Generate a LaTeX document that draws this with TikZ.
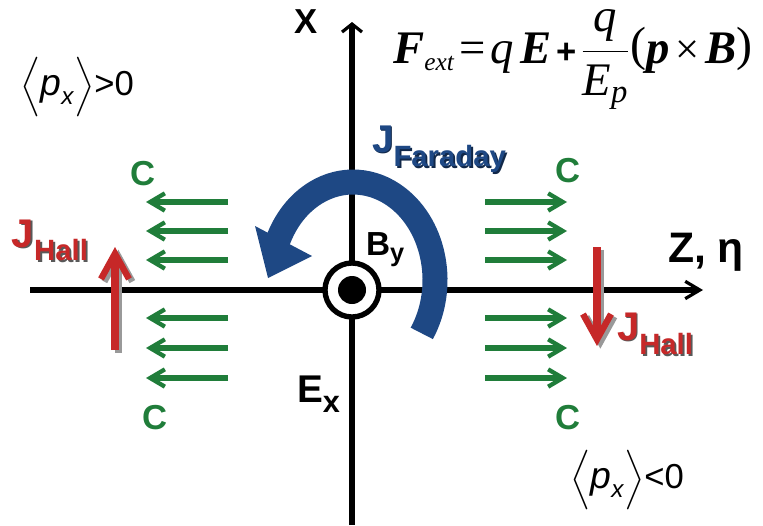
\RequirePackage{fix-cm}
\documentclass[tikz,border=0pt]{standalone}
\usepackage{amsmath}
\usepackage{fontspec}
\newfontfamily\arl{Liberation Sans}
\newfontfamily\tms{Liberation Serif}
\usetikzlibrary{arrows.meta}
\definecolor{jblue}{RGB}{30,72,132}
\definecolor{jred}{RGB}{198,40,40}
\definecolor{cgreen}{RGB}{32,125,58}
\newcommand{\fs}[1]{\fontsize{#1}{#1}\selectfont}
\newcommand{\bi}[1]{\text{\tms\bfseries\itshape #1}}
\newcommand{\ti}[1]{\text{\tms\itshape #1}}
\newcommand{\pxlabel}[1]{\arl\fs{26}$\Bigl\langle\text{\arl\itshape\fs{28}p}_{\text{\arl\itshape x}}\Bigr\rangle$#1}
\newcommand{\stext}[6]{%
  \node[lbl, anchor=base west, text=#5] (#1s) at (#2+1.8,#3+1.8) {#6};
  \node[lbl, anchor=base west, text=#4] (#1) at (#2,#3) {#6};}
\begin{document}
\begin{tikzpicture}[x=0.75pt,y=-0.75pt,
  lbl/.style={inner sep=0pt, outer sep=0pt, font=\arl\bfseries},
  haxis/.style={line width=4.2pt, -{Straight Barb[length=11pt,width=13pt,line width=2.4pt]}},
  vaxis/.style={line width=4.2pt, -{Straight Barb[length=6pt,width=15pt,line width=2.4pt]}},
  garr/.style={cgreen, line width=4.5pt, -{Straight Barb[length=11pt,width=13pt,line width=3.2pt]}},
  rarr/.style={jred, line width=5.4pt, -{Straight Barb[length=19pt,width=21pt,line width=4.8pt]}},
  rshadow/.style={black!40, transform canvas={xshift=2.5pt,yshift=-2pt}},
]
\useasboundingbox (0,0) rectangle (763,525);

% axes
\coordinate (hl) at (30,290);
\coordinate (hr) at (703,290);
\coordinate (vb) at (352,525);
\coordinate (vt) at (352,22);
\draw[haxis] (hl) -- (hr);
\draw[vaxis] (vb) -- (vt);

% Faraday current arc
\coordinate (arcc) at (353,280);
\draw[jblue, line width=18.75pt] (arcc) ++(-33:61.5pt and 73.5pt)
  arc[start angle=-33, end angle=157, x radius=61.5pt, y radius=73.5pt];
\coordinate (ta) at (255,226);
\coordinate (tb) at (312,256);
\coordinate (tc) at (268,278);
\fill[jblue] (ta) -- (tb) -- (tc) -- cycle;

% B_y symbol (out of page)
\node[circle, draw, line width=4pt, fill=white, minimum size=40.5pt, inner sep=0pt] (bring) at (352,290) {};
\node[circle, fill=black, minimum size=21pt, inner sep=0pt] (bdot) at (352,290) {};

% green arrows c
\foreach \y [count=\i] in {202,231,260,318,348,378} {
  \coordinate (la\i) at (228,\y); \coordinate (lb\i) at (146,\y);
  \draw[garr] (la\i) -- (lb\i);
  \coordinate (ra\i) at (485,\y); \coordinate (rb\i) at (567,\y);
  \draw[garr] (ra\i) -- (rb\i);
}

% red Hall arrows
\coordinate (lhs) at (115,350); \coordinate (lht) at (115,247);
\coordinate (rhs) at (597,247); \coordinate (rht) at (597,346);
\draw[rarr, rshadow] (lhs) -- (lht);
\draw[rarr] (lhs) -- (lht);
\draw[rarr, rshadow] (rhs) -- (rht);
\draw[rarr] (rhs) -- (rht);

% labels
\node[lbl, font=\arl\bfseries\fs{26}] (xl) at (306,22) {X};
\node[lbl, anchor=base west, font=\arl\bfseries\fs{32}] (zl) at (668,262) {Z, η};
\node[lbl, anchor=base west] (byl) at (366,255) {{\fs{25}B}\raisebox{-5pt}{\fs{19}y}};
\node[lbl, anchor=base west] (exl) at (297,402) {{\fs{29}E}\raisebox{-8pt}{\fs{23}x}};
\foreach \n/\px/\py in {c1/143/174, c2/155/418, c3/568/171, c4/568/418}
  \node[lbl, text=cgreen, font=\arl\bfseries\fs{26}] (\n) at (\px,\py) {C};

\stext{jf}{372}{152}{jblue}{jblue!55!black}{{\fs{29}J}\raisebox{-11pt}{\fs{22}Faraday}}
\stext{jhl}{12}{247}{jred}{black!65}{{\fs{30}J}\raisebox{-10pt}{\fs{22}Hall}}
\stext{jhr}{617}{340}{jred}{black!65}{{\fs{30}J}\raisebox{-11pt}{\fs{22}Hall}}

\node[inner sep=0pt, anchor=west] (pxp) at (20,87) {\pxlabel{>0}};
\node[inner sep=0pt, anchor=west] (pxn) at (570,480) {\pxlabel{<0}};

\node[inner sep=0pt, anchor=base west, font=\fs{35}] (force) at (393,63)
  {$\bi{F}_{\text{\tms\itshape\fs{19}ext}}\hspace{4pt}{\text{\tms =}}\hspace{3pt}\ti{q}\hspace{5pt}\bi{E}\hspace{4pt}{\text{\arl\bfseries\fs{26}+}}\hspace{3pt}\dfrac{\ti{q}}{\ti{E}_{\ti{p}}}\hspace{1pt}\raisebox{2pt}{\text{\tms\fs{36}(}}\bi{p}\hspace{4pt}{\text{\tms\fs{32}×}}\hspace{4pt}\bi{B}\raisebox{2pt}{\text{\tms\fs{36})}}$};
\end{tikzpicture}
\end{document}
